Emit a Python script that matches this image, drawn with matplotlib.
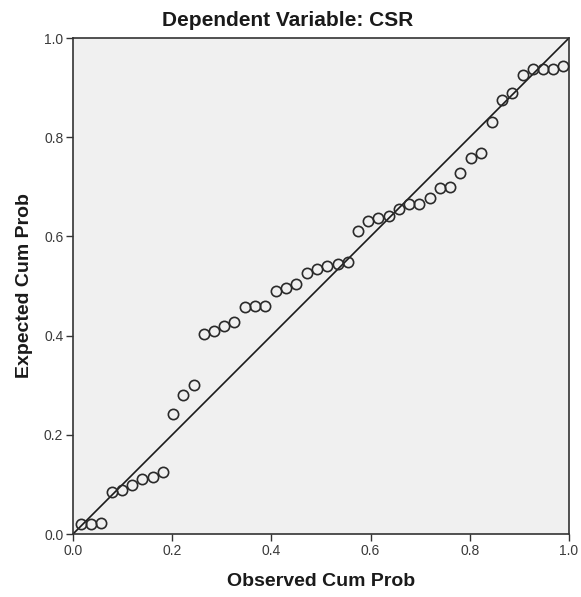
import matplotlib
matplotlib.use("Agg")
import matplotlib.pyplot as plt

observed = [0.0155, 0.0363, 0.0565, 0.0780, 0.0982, 0.1183, 0.1397, 0.1607, 0.1815, 0.2022,
            0.2224, 0.2433, 0.2641, 0.2843, 0.3044, 0.3246, 0.3468, 0.3669, 0.3877, 0.4087,
            0.4294, 0.4502, 0.4712, 0.4919, 0.5127, 0.5337, 0.5538, 0.5740, 0.5948, 0.6159,
            0.6377, 0.6579, 0.6780, 0.6982, 0.7198, 0.7399, 0.7601, 0.7808, 0.8018, 0.8226,
            0.8448, 0.8649, 0.8851, 0.9067, 0.9268, 0.9470, 0.9677, 0.9885]
expected = [0.0196, 0.0196, 0.0216, 0.0853, 0.0887, 0.0988, 0.1103, 0.1143, 0.1244, 0.2425,
            0.2796, 0.2998, 0.4026, 0.4093, 0.4194, 0.4274, 0.4567, 0.4587, 0.4597, 0.4899,
            0.4954, 0.5034, 0.5256, 0.5349, 0.5397, 0.5438, 0.5490, 0.6109, 0.6304, 0.6371,
            0.6417, 0.6552, 0.6653, 0.6659, 0.6768, 0.6970, 0.7002, 0.7272, 0.7575, 0.7688,
            0.8300, 0.8750, 0.8885, 0.9254, 0.9369, 0.9375, 0.9375, 0.9442]
ticks = [0.0, 0.2, 0.4, 0.6, 0.8, 1.0]
tick_labels = ["0.0", "0.2", "0.4", "0.6", "0.8", "1.0"]
ref_line = [0.0, 1.0]

plt.rcParams['font.family'] = ['Liberation Sans', 'DejaVu Sans']

fig = plt.figure(figsize=(5.81, 5.97), dpi=100)
ax = fig.add_axes([73/581, 63/597, 496/581, 496/597])
ax.set_facecolor('#f0f0f0')

ax.plot(ref_line, ref_line, color='#1a1a1a', lw=1.2, zorder=2)
ax.plot(observed, expected, linestyle='none', marker='o', markersize=7.4,
        markerfacecolor='none', markeredgecolor='#2a2a2a', markeredgewidth=1.2, zorder=3)

ax.set_xlim(0, 1)
ax.set_ylim(0, 1)
ax.set_xticks(ticks)
ax.set_xticklabels(tick_labels)
ax.set_yticks(ticks)
ax.set_yticklabels(tick_labels)
ax.tick_params(direction='out', length=5, width=1, color='#333333',
               labelsize=10, labelcolor='#3a3a3a', pad=2)
for s in ax.spines.values():
    s.set_color('#333333')
    s.set_linewidth(1.2)

ax.set_xlabel('Observed Cum Prob', fontsize=14, fontweight='bold', color='#1a1a1a', va='center')
ax.set_ylabel('Expected Cum Prob', fontsize=14, fontweight='bold', color='#1a1a1a', va='center')
ax.xaxis.set_label_coords(248/496, -48/496)
ax.yaxis.set_label_coords(-48/496, 0.5)
fig.text(288/581, 1 - 20.5/597, 'Dependent Variable: CSR', ha='center', va='center',
         fontsize=15, fontweight='bold', color='#1a1a1a')

fig.savefig('out.png', dpi=100)
